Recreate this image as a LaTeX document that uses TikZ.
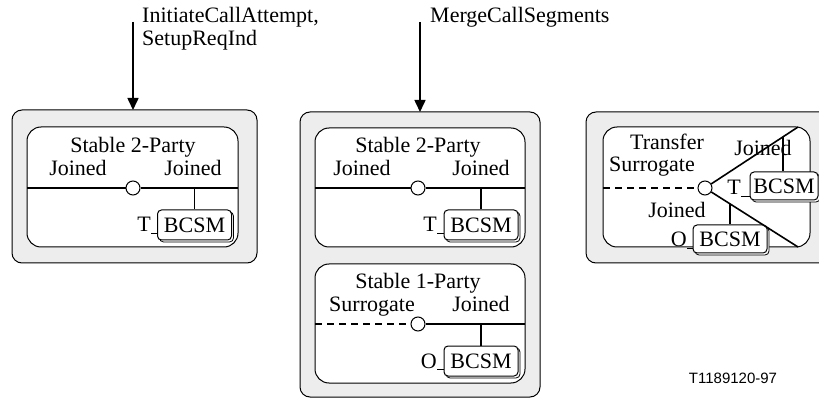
\documentclass[tikz,border=0pt]{standalone}
\usepackage{fontspec}
\setmainfont{Liberation Serif}
\newfontfamily\labelsans{Liberation Sans}
\usetikzlibrary{shadows,arrows.meta}
\begin{document}
\begin{tikzpicture}[x=1pt,y=-1pt,
  outerbox/.style={draw=black, line width=1pt, fill=black!7, rounded corners=10pt},
  innerbox/.style={draw=black, line width=1pt, fill=white, rounded corners=14pt},
  wire/.style={line width=1.6pt},
  dwire/.style={line width=1.6pt, dash pattern=on 7pt off 5pt},
  junction/.style={circle, draw, line width=1pt, fill=white, minimum size=14pt, inner sep=0pt},
  lbl/.style={inner sep=0pt, font=\fontsize{22}{24}\selectfont},
  bcsm/.style={draw, line width=1pt, fill=white, rounded corners=4pt, inner sep=0pt,
    copy shadow={shadow xshift=2pt, shadow yshift=-2pt, draw=black, line width=0.8pt, fill=white},
    font=\fontsize{22}{24}\selectfont, minimum width=74pt, minimum height=30pt},
  ev/.style={-{Triangle[length=12pt,width=11pt]}, line width=1.6pt},
]
\useasboundingbox (0,0) rectangle (819,403);
\clip (0,0) rectangle (819,403);

% ---------------- event arrows
\coordinate (a1s) at (133,22);
\coordinate (a1e) at (133,110);
\coordinate (a2s) at (420,22);
\coordinate (a2e) at (420,112);
\draw[ev] (a1s) -- (a1e);
\draw[ev] (a2s) -- (a2e);
\node[lbl, anchor=base west] (ev1a) at (142,23) {InitiateCallAttempt,};
\node[lbl, anchor=base west] (ev1b) at (142,46) {SetupReqInd};
\node[lbl, anchor=base west] (ev2) at (430,23) {MergeCallSegments};

% ---------------- left diagram
\draw[outerbox] (12,110) rectangle (257,263);
\draw[innerbox] (27,127) rectangle (238,247);
\node[lbl, anchor=base] (tA) at (133,153) {Stable 2-Party};
\node[lbl, anchor=base] (jA1) at (78,176) {Joined};
\node[lbl, anchor=base] (jA2) at (193,176) {Joined};
\coordinate (lA) at (27,188);
\coordinate (rA) at (238,188);
\node[junction] (cA) at (133,188) {};
\node[bcsm] (bA) at (194.5,225) {BCSM};
\node[lbl, anchor=base east] (xA) at (151,232) {T};
\draw[wire] (lA) -- (cA);
\draw[wire] (cA) -- (rA);
\draw[wire] (bA.north |- cA) -- (bA.north);
\draw[line width=1pt] ([yshift=-1.5pt]xA.base east) -- ([yshift=-1.5pt]xA.base east -| bA.west);

% ---------------- middle diagram
\draw[outerbox] (300,112) rectangle (540,397);
\draw[innerbox] (315,128) rectangle (525,247);
\draw[innerbox] (315,264) rectangle (525,383);
% upper
\node[lbl, anchor=base] (tB) at (418,153) {Stable 2-Party};
\node[lbl, anchor=base] (jB1) at (362,176) {Joined};
\node[lbl, anchor=base] (jB2) at (481,176) {Joined};
\coordinate (lB) at (315,188);
\coordinate (rB) at (525,188);
\node[junction] (cB) at (418,188) {};
\node[bcsm] (bB) at (481,225) {BCSM};
\node[lbl, anchor=base east] (xB) at (437,232) {T};
\draw[wire] (lB) -- (cB);
\draw[wire] (cB) -- (rB);
\draw[wire] (bB.north |- cB) -- (bB.north);
\draw[line width=1pt] ([yshift=-1.5pt]xB.base east) -- ([yshift=-1.5pt]xB.base east -| bB.west);
% lower
\node[lbl, anchor=base] (tB2) at (418,289) {Stable 1-Party};
\node[lbl, anchor=base] (sB2) at (372,312) {Surrogate};
\node[lbl, anchor=base] (jB3) at (481,312) {Joined};
\coordinate (lB2) at (315,324);
\coordinate (rB2) at (525,324);
\node[junction] (cB2) at (418,324) {};
\node[bcsm] (bB2) at (481,361) {BCSM};
\node[lbl, anchor=base east] (xB2) at (437,368) {O};
\draw[dwire] (lB2) -- (cB2);
\draw[wire] (cB2) -- (rB2);
\draw[wire] (bB2.north |- cB2) -- (bB2.north);
\draw[line width=1pt] ([yshift=-1.5pt]xB2.base east) -- ([yshift=-1.5pt]xB2.base east -| bB2.west);

% ---------------- right diagram
\draw[outerbox] (586,112) rectangle (840,263);
\draw[innerbox] (603,127) rectangle (810,247);
\node[lbl, anchor=base] (tC) at (667,150) {Transfer};
\node[lbl, anchor=base] (sC) at (652,172) {Surrogate};
\node[lbl, anchor=base] (jC1) at (763,156) {Joined};
\node[lbl, anchor=base] (jC2) at (677,218) {Joined};
\coordinate (lC) at (603,188);
\coordinate (trC) at (798,127);
\coordinate (brC) at (798,247);
\node[junction] (cC) at (705,188) {};
\coordinate (jT) at (783,136.8);
\coordinate (jO) at (730,203.9);
\node[bcsm, minimum width=68pt, minimum height=28pt] (bT) at (784,186) {BCSM};
\node[bcsm, minimum height=28pt] (bO) at (730,239) {BCSM};
\node[lbl, anchor=base east] (xT) at (741,195) {T};
\node[lbl, anchor=base east] (xO) at (687,247) {O};
\draw[dwire] (lC) -- (cC);
\draw[wire] (cC) -- (trC);
\draw[wire] (cC) -- (brC);
\draw[wire] (jT) -- (jT |- bT.north);
\draw[wire] (jO) -- (jO |- bO.north);
\draw[line width=1pt] ([yshift=-1.5pt]xT.base east) -- ([yshift=-1.5pt]xT.base east -| bT.west);
\draw[line width=1pt] ([yshift=-1.5pt]xO.base east) -- ([yshift=-1.5pt]xO.base east -| bO.west);

% ---------------- figure id
\node[inner sep=0pt, font=\labelsans\fontsize{15}{17}\selectfont] (fid) at (733,378) {T1189120-97};
\end{tikzpicture}
\end{document}
